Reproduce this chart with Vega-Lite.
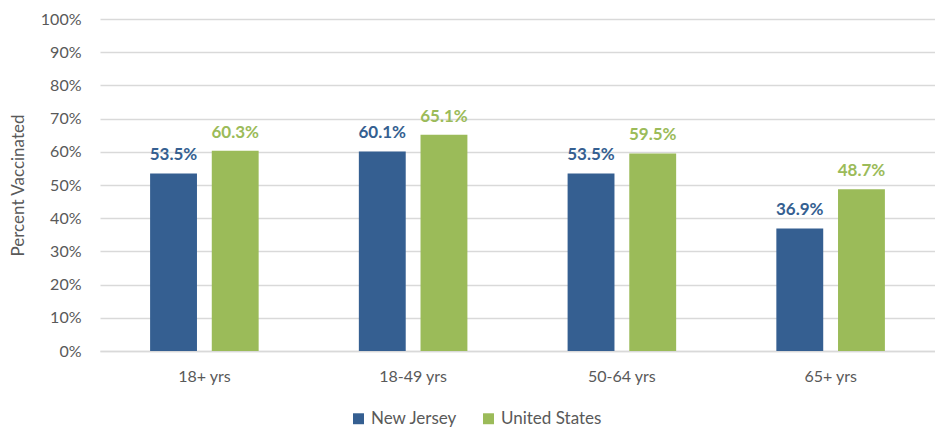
{
  "$schema": "https://vega.github.io/schema/vega-lite/v6.json",
  "width": 835,
  "height": 332,
  "autosize": {"type": "none"},
  "padding": {"left": 100, "top": 19, "right": 0, "bottom": 76},
  "background": "white",
  "config": {
    "view": {"stroke": null},
    "font": "Lato"
  },
  "data": {
    "values": [
      {"age": "18+ yrs", "region": "New Jersey", "pct": 0.535},
      {"age": "18+ yrs", "region": "United States", "pct": 0.603},
      {"age": "18-49 yrs", "region": "New Jersey", "pct": 0.601},
      {"age": "18-49 yrs", "region": "United States", "pct": 0.651},
      {"age": "50-64 yrs", "region": "New Jersey", "pct": 0.535},
      {"age": "50-64 yrs", "region": "United States", "pct": 0.595},
      {"age": "65+ yrs", "region": "New Jersey", "pct": 0.369},
      {"age": "65+ yrs", "region": "United States", "pct": 0.487}
    ]
  },
  "encoding": {
    "x": {
      "field": "age", "type": "nominal", "sort": null,
      "scale": {"paddingInner": 0.48, "paddingOuter": 0.24},
      "axis": {"title": null, "labelAngle": 0, "labelFontSize": 16, "labelColor": "#595959", "labelPadding": 17, "ticks": false, "domainColor": "#d9d9d9", "domainWidth": 1.5}
    },
    "xOffset": {"field": "region", "type": "nominal", "scale": {"paddingInner": 0.24}},
    "y": {
      "field": "pct", "type": "quantitative",
      "scale": {"domain": [0, 1]},
      "axis": {"title": "Percent Vaccinated", "format": ".0%", "values": [0,0.1,0.2,0.3,0.4,0.5,0.6,0.7,0.8,0.9,1], "labelOverlap": false, "labelFontSize": 16, "labelColor": "#595959", "labelPadding": 19, "ticks": false, "domain": false, "gridColor": "#d9d9d9", "gridWidth": 1.5, "titleFontSize": 17, "titleFontWeight": "normal", "titleColor": "#595959", "titlePadding": 13}
    },
    "color": {
      "field": "region", "type": "nominal",
      "scale": {"domain": ["New Jersey", "United States"], "range": ["#355F91", "#9BBB59"]},
      "legend": {"title": null, "orient": "none", "legendX": 250, "legendY": 391, "direction": "horizontal", "symbolType": "square", "symbolSize": 120, "symbolStrokeWidth": 0, "labelFontSize": 17, "labelColor": "#595959", "columnPadding": 22}
    }
  },
  "layer": [
    {"mark": {"type": "bar"}},
    {
      "mark": {"type": "text", "baseline": "bottom", "dy": -9, "fontSize": 17, "fontWeight": "bold"},
      "encoding": {"text": {"field": "pct", "type": "quantitative", "format": ".1%"}}
    }
  ]
}
